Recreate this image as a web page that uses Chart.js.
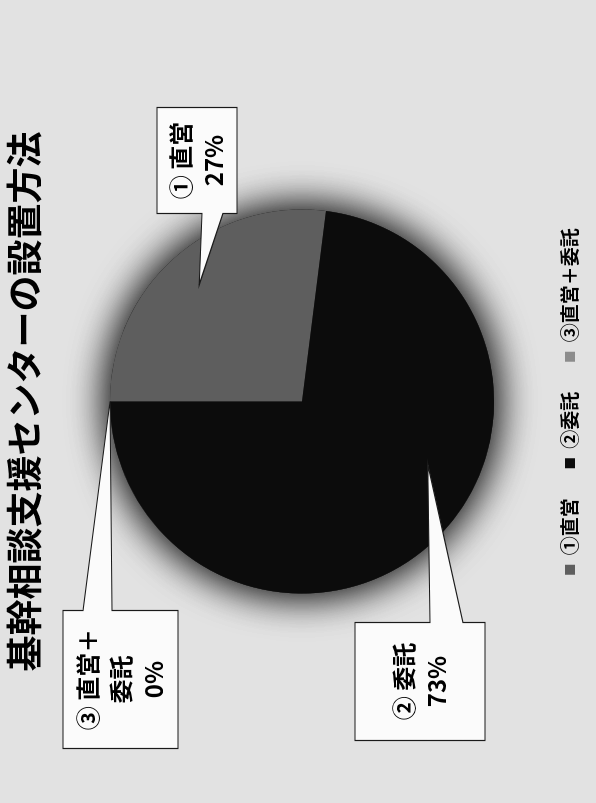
<!DOCTYPE html>
<html>
<head>
<meta charset="utf-8">
<script src="https://cdn.jsdelivr.net/npm/chart.js@4"></script>
<style>
  html, body { margin: 0; padding: 0; width: 596px; height: 803px; overflow: hidden; background: #e2e2e2; }
  /* the chart is drawn landscape and turned a quarter turn, like the scan */
  #wrap { position: absolute; left: 0; top: 0; width: 803px; height: 596px;
          transform-origin: 0 0; transform: translate(0, 803px) rotate(-90deg); }
</style>
</head>
<body>
<div id="wrap"><canvas id="c" width="803" height="596"></canvas></div>
<script>
const titleText = '基幹相談支援センターの設置方法';
const categories = ['①直営', '②委託', '③直営＋委託'];
const calloutNames = [['① 直営'], ['② 委託'], ['③ 直営＋', '委託']];
const shares = [27, 73, 0];
const sliceColors = ['#5e5e5e', '#0c0c0c', '#8c8c8c'];

// callout placement, relative to the pie centre (px) and the slice (t along arc, f of radius)
const callouts = [
  { t: 0.5,   f: 0.81, box: [188, -145, 106, 80],  base: [-100, -79], side: 'left' },
  { t: 0.415, f: 0.73, box: [-339, 53, 118, 130],  base: [128, 161],  side: 'right' },
  { t: 0,     f: 1.0,  box: [-347, -239, 138, 115], base: [-219, -190], side: 'right' }
];

const jpFont = '"Noto Sans CJK JP", "Noto Sans", sans-serif';

const pieGlow = {
  id: 'pieGlow',
  beforeDatasetsDraw(chart) {
    const arc = chart.getDatasetMeta(0).data[0];
    if (!arc) return;
    const ctx = chart.ctx;
    ctx.save();
    ctx.shadowColor = 'rgba(0,0,0,0.75)';
    ctx.shadowBlur = 40;
    ctx.fillStyle = '#333';
    for (let k = 0; k < 2; k++) {
      ctx.beginPath();
      ctx.arc(arc.x, arc.y, arc.outerRadius, 0, Math.PI * 2);
      ctx.fill();
    }
    ctx.restore();
  }
};

const calloutPlugin = {
  id: 'callouts',
  afterDatasetsDraw(chart) {
    const ctx = chart.ctx;
    const meta = chart.getDatasetMeta(0);
    meta.data.forEach((arc, i) => {
      const c = callouts[i];
      const { x, y, startAngle, endAngle, outerRadius } = arc;
      const a = startAngle + c.t * (endAngle - startAngle);
      const tx = x + Math.cos(a) * outerRadius * c.f;
      const ty = y + Math.sin(a) * outerRadius * c.f;
      const bx = x + c.box[0], by = y + c.box[1], bw = c.box[2], bh = c.box[3];
      const b0 = y + c.base[0], b1 = y + c.base[1];

      ctx.save();
      ctx.beginPath();
      if (c.side === 'left') {
        ctx.moveTo(bx, by);
        ctx.lineTo(bx + bw, by);
        ctx.lineTo(bx + bw, by + bh);
        ctx.lineTo(bx, by + bh);
        ctx.lineTo(bx, b1);
        ctx.lineTo(tx, ty);
        ctx.lineTo(bx, b0);
      } else {
        ctx.moveTo(bx, by);
        ctx.lineTo(bx + bw, by);
        ctx.lineTo(bx + bw, b0);
        ctx.lineTo(tx, ty);
        ctx.lineTo(bx + bw, b1);
        ctx.lineTo(bx + bw, by + bh);
        ctx.lineTo(bx, by + bh);
      }
      ctx.closePath();
      ctx.fillStyle = '#fbfbfb';
      ctx.fill();
      ctx.lineWidth = 1.2;
      ctx.strokeStyle = '#1a1a1a';
      ctx.stroke();

      const lines = calloutNames[i].concat([shares[i] + '%']);
      const step = 33;
      ctx.fillStyle = '#000';
      ctx.font = 'bold 24px ' + jpFont;
      ctx.textAlign = 'center';
      ctx.textBaseline = 'middle';
      const cx = bx + bw / 2, cy = by + bh / 2;
      lines.forEach((t, k) => {
        ctx.fillText(t, cx, cy + (k - (lines.length - 1) / 2) * step);
      });
      ctx.restore();
    });
  }
};

new Chart(document.getElementById('c'), {
  type: 'pie',
  data: {
    labels: categories,
    datasets: [{
      data: shares,
      backgroundColor: sliceColors,
      borderWidth: 0
    }]
  },
  options: {
    responsive: false,
    animation: false,
    radius: 192,
    layout: { padding: { top: 0, bottom: 6.5, left: 0, right: 0 } },
    plugins: {
      title: {
        display: true,
        text: titleText,
        color: '#000',
        font: { family: jpFont, size: 36, weight: 'bold' },
        padding: { top: 3, bottom: 27.3 }
      },
      legend: {
        position: 'bottom',
        labels: {
          color: '#000',
          font: { family: jpFont, size: 19, weight: 'bold' },
          boxWidth: 10,
          boxHeight: 10,
          padding: 30
        }
      },
      tooltip: { enabled: false }
    }
  },
  plugins: [pieGlow, calloutPlugin]
});
</script>
</body>
</html>
